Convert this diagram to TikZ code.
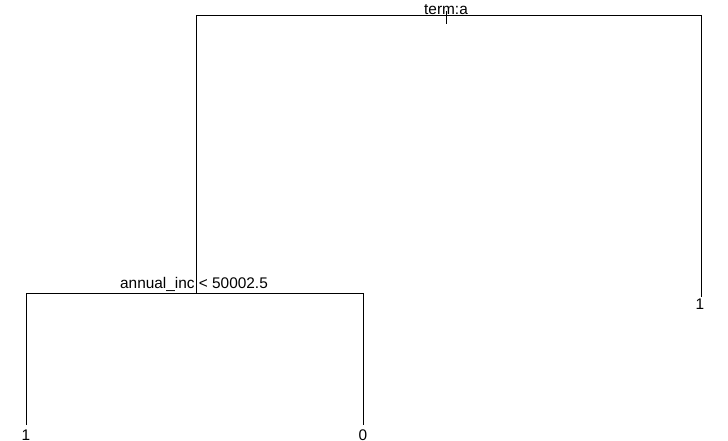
\documentclass[tikz,border=0pt]{standalone}
\usepackage{fontspec}
\setmainfont{Liberation Sans}
\begin{document}
\begin{tikzpicture}[x=1pt,y=-1pt,line width=1pt,
  lbl/.style={font=\fontsize{15.4}{16}\selectfont, inner sep=0pt, anchor=base}]
\useasboundingbox (0,0) rectangle (728,441);
% split points and corners
\coordinate (rootTop) at (446,11);
\coordinate (root) at (446,24);
\coordinate (rl) at (196,16);
\coordinate (rr) at (701,16);
\coordinate (s2) at (196,293);
\coordinate (sl) at (26,293);
\coordinate (sr) at (363,293);
\coordinate (leafA) at (26,425);
\coordinate (leafB) at (363,425);
\coordinate (leafC) at (701,297);
% labels
\node[lbl] (t1) at (446,15) {term:a};
\node[lbl] (t2) at (194,288) {annual\_inc {\textless} 50002.5};
\node[lbl] (l1) at (26,440) {1};
\node[lbl] (l2) at (363,440) {0};
\node[lbl] (l3) at (700,309) {1};
% branches
\draw (rootTop) -- (root);
\draw (s2) -- (rl) -- (rr) -- (leafC);
\draw (leafA) -- (sl) -- (sr) -- (leafB);
\end{tikzpicture}
\end{document}
